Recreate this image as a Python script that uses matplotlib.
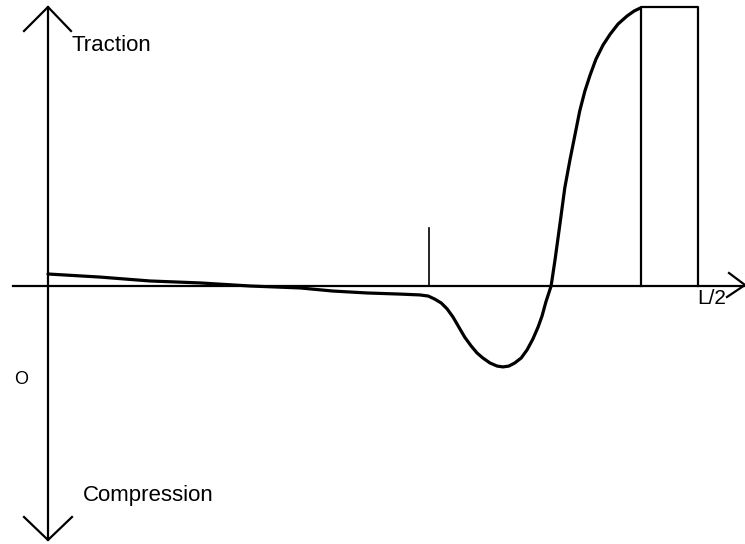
import numpy as np
import matplotlib.pyplot as plt

# position along the beam (fraction of L/2) and stress (fraction of peak traction)
x_pos = [0.0, 0.080, 0.157, 0.234, 0.311, 0.388, 0.438, 0.491, 0.542, 0.572,
         0.585, 0.595, 0.605, 0.614, 0.623, 0.632, 0.641, 0.651, 0.660, 0.669,
         0.680, 0.691, 0.700, 0.709, 0.718, 0.728, 0.737, 0.746, 0.754, 0.760,
         0.766, 0.774, 0.780, 0.788, 0.795, 0.803, 0.811, 0.818, 0.826, 0.834,
         0.843, 0.854, 0.865, 0.877, 0.891, 0.902, 0.911]
stress = [0.043, 0.032, 0.018, 0.011, 0.0, -0.007, -0.018, -0.025, -0.029, -0.032,
          -0.036, -0.047, -0.061, -0.082, -0.111, -0.147, -0.183, -0.215, -0.240, -0.258,
          -0.276, -0.287, -0.290, -0.287, -0.276, -0.258, -0.229, -0.190, -0.147, -0.108,
          -0.057, 0.0, 0.093, 0.229, 0.351, 0.452, 0.545, 0.627, 0.699, 0.756,
          0.813, 0.864, 0.903, 0.939, 0.968, 0.986, 0.996]

# constant block at the end and the marker line
block_x = [0.912, 1.0]
block_height = 1.0
mark_x = 0.586
mark_height = 0.208

# pixel -> data scale (axes fills the whole figure)
sx = 1 / 650
sy = 1 / 279

fig = plt.figure(figsize=(7.45, 5.44), dpi=100)
ax = fig.add_axes([0, 0, 1, 1])
ax.set_xlim(-48 * sx, 697 * sx)
ax.set_ylim(-258 * sy, 286 * sy)
ax.axis("off")

k = "black"
# axes
ax.plot([0, 0], [279 * sy, -254 * sy], color=k, lw=1.6)
ax.plot([-35 * sx, 697 * sx], [0, 0], color=k, lw=1.6)

# open arrow heads
ax.plot([-24 * sx, 0, 23 * sx], [255 * sy, 279 * sy, 255 * sy], color=k, lw=1.6)
ax.plot([-24 * sx, 0, 24 * sx], [-231 * sy, -254 * sy, -231 * sy], color=k, lw=1.6)
ax.plot([681 * sx, 697 * sx, 679 * sx], [13 * sy, 1 * sy, -11 * sy], color=k, lw=1.6)

# stress curve
ax.plot(x_pos, stress, color=k, lw=2.3, solid_capstyle="round", solid_joinstyle="round")

# block
ax.plot([block_x[0], block_x[0], block_x[1], block_x[1]],
        [0, block_height, block_height, 0], color=k, lw=1.6)

# marker
ax.plot([mark_x, mark_x], [0, mark_height], color=k, lw=1.2)

font = ["Liberation Sans", "DejaVu Sans"]
ax.text(24 * sx, 240 * sy, "Traction", family=font, fontsize=16, va="center", ha="left")
ax.text(35 * sx, -210 * sy, "Compression", family=font, fontsize=16, va="center", ha="left")
ax.text(-27 * sx, -94 * sy, "O", family=font, fontsize=13, va="center", ha="center")
ax.text(649 * sx, -13 * sy, "L/2", family=font, fontsize=15, va="center", ha="left")

plt.savefig("out.png", dpi=100)
